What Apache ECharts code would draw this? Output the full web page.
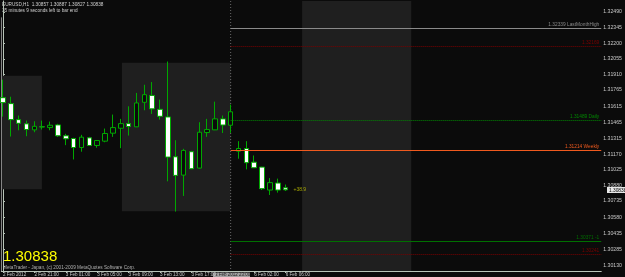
<!DOCTYPE html>
<html><head><meta charset="utf-8">
<script src="https://cdn.jsdelivr.net/npm/echarts@6/dist/echarts.min.js"></script>
<style>html,body{margin:0;padding:0;background:#0b0b0b;}#c{width:625px;height:277px;}</style>
</head><body><div id="c"></div>
<script>
// ---- data ----
const barIndex = [0,1,2,3,4,5,6,7,8,9,10,11,12,13,14,15,16,17,18,19,20,21,22,23,24,25,26,27,28,29,30,31,32,33,34,35,36];
const opens  = [1.31694,1.31639,1.31490,1.31451,1.31395,1.31423,1.31416,1.31441,1.31340,1.31315,1.31231,1.31321,1.31250,1.31290,1.31364,1.31410,1.31453,1.31423,1.31651,1.31715,1.31586,1.31515,1.31145,1.30975,1.31192,1.31040,1.31370,1.31395,1.31497,1.31438,1.31197,1.31222,1.31095,1.31049,1.30836,1.30901,1.30857];
const highs  = [1.31861,1.31703,1.31528,1.31481,1.31475,1.31481,1.31472,1.31451,1.31358,1.31321,1.31349,1.31330,1.31300,1.31407,1.31537,1.31497,1.31614,1.31738,1.31814,1.31839,1.31676,1.32030,1.31299,1.31219,1.31200,1.31466,1.31497,1.31657,1.31528,1.31629,1.31290,1.31290,1.31157,1.31052,1.30947,1.30942,1.30887];
const lows   = [1.31518,1.31333,1.31391,1.31336,1.31373,1.31398,1.31391,1.31330,1.31253,1.31120,1.31192,1.31245,1.31229,1.31280,1.31330,1.31225,1.31342,1.31421,1.31577,1.31543,1.31490,1.30917,1.30636,1.30781,1.31030,1.31035,1.31330,1.31393,1.31366,1.31367,1.31127,1.31028,1.31042,1.30836,1.30790,1.30812,1.30827];
const closes = [1.31648,1.31490,1.31456,1.31398,1.31428,1.31422,1.31438,1.31340,1.31312,1.31231,1.31327,1.31250,1.31296,1.31361,1.31416,1.31453,1.31426,1.31645,1.31722,1.31590,1.31521,1.31142,1.30972,1.31204,1.31034,1.31373,1.31398,1.31497,1.31440,1.31563,1.31222,1.31090,1.31043,1.30849,1.30905,1.30836,1.30838];

const priceTickValues = [1.30130,1.30285,1.30435,1.30580,1.30735,1.30880,1.31025,1.31170,1.31315,1.31465,1.31615,1.31765,1.31910,1.32055,1.32200,1.32345,1.32490];
const priceTickLabels = ['1.30130','1.30285','1.30435','1.30580','1.30735','1.30880','1.31025','1.31170','1.31315','1.31465','1.31615','1.31765','1.31910','1.32055','1.32200','1.32345','1.32490'];

const timeTickIndex  = [0,4,8,12,16,20,24,32,36];
const timeTickLabels = ['2 Feb 2012','2 Feb 21:00','3 Feb 01:00','3 Feb 05:00','3 Feb 09:00','3 Feb 13:00','3 Feb 17:00','6 Feb 02:00','6 Feb 06:00'];

const levelNames  = ['1.32339 LastMonthHigh','1.32169','1.31489 Daily','1.31214 Weekly','1.30371 -1','1.30241'];
const levelValues = [1.32339,1.32169,1.31482,1.31205,1.30364,1.30241];
const levelStartBar = [29,29,29,29,29,29];

const sessionBoxes = [ // [startBar, endBar, high, low]
  [-0.3, 4.96, 1.31898, 1.30843],
  [15.15, 29.0, 1.32018, 1.30639],
  [38.1, 52.0, null, null]
];
const lastPrice = 1.30838;
const lastLabel = '1.30838';
const spreadText = '+38.9';

// ---- chart ----
const X_MIN = -0.2144, X_MAX = 76.2, Y_MIN = 1.30084, Y_MAX = 1.32592;
const candles = barIndex.map((k,i)=>[k, opens[i], closes[i], lows[i], highs[i]]);
const chart = echarts.init(document.getElementById('c'), null, {renderer:'canvas'});
const levelColors = ['#8a8a8a','#7a0000','#008800','#f05a1e','#007000','#7a0000'];
const levelTypes = ['solid','dotted','dotted','solid','solid','dotted'];
const FONT = '"Liberation Sans"';

const markLineData = levelValues.map((v,i)=>{
  const ls = {color:levelColors[i], type:levelTypes[i], width:1, opacity:1};
  return [
    {coord:[levelStartBar[i], v], lineStyle:ls, itemStyle:{color:levelColors[i]},
     label:{show:true, position:'insideEndTop', formatter:levelNames[i], color:levelColors[i], fontSize:4.8, fontFamily:FONT, distance:[2,1]}},
    {coord:[X_MAX, v], lineStyle:ls, itemStyle:{color:levelColors[i]}}
  ];
});
const boxData = sessionBoxes.map(b=>[
  {coord:[b[0], b[2]===null?Y_MAX:b[2]]},
  {coord:[b[1], b[3]===null?Y_MIN:b[3]]}
]);

chart.setOption({
  backgroundColor:'#0b0b0b',
  animation:false,
  grid:{left:0, right:19, top:1, bottom:5, containLabel:false},
  xAxis:{type:'value', min:X_MIN, max:X_MAX, splitLine:{show:false},
    axisLine:{show:true, lineStyle:{color:'#b8c4b8', width:1}},
    axisTick:{show:true, length:2, customValues:timeTickIndex, lineStyle:{color:'#b8c4b8'}},
    axisLabel:{show:true, customValues:timeTickIndex, align:'left', margin:1, color:'#c8c8c8', fontSize:4.6, fontFamily:FONT,
      formatter:(v)=>{const i=timeTickIndex.indexOf(Math.round(v)); return i>=0?timeTickLabels[i]:'';}}
  },
  yAxis:{type:'value', position:'right', min:Y_MIN, max:Y_MAX, splitLine:{show:false}, scale:true,
    axisLine:{show:true, lineStyle:{color:'#b8c4b8', width:1}},
    axisTick:{show:true, length:2, customValues:priceTickValues, lineStyle:{color:'#b8c4b8'}},
    axisLabel:{show:true, customValues:priceTickValues, margin:2, color:'#c8c8c8', fontSize:5.2, fontFamily:FONT,
      formatter:(v)=>{let best=0,d=1;priceTickValues.forEach((t,i)=>{if(Math.abs(t-v)<d){d=Math.abs(t-v);best=i;}});return priceTickLabels[best];}}
  },
  series:[
    {type:'candlestick', data:candles, encode:{x:0, y:[1,2,3,4]}, barWidth:5,
      itemStyle:{color:'#0b0b0b', color0:'#ffffff', borderColor:'#00a800', borderColor0:'#00a800', borderWidth:1},
      markArea:{silent:true, itemStyle:{color:'#1f1f1f'}, data:boxData},
      markLine:{silent:true, symbol:['none','none'], lineStyle:{opacity:1}, data:markLineData}
    },
    {type:'line', data:[[29.0, Y_MAX],[29.0, Y_MIN]], symbol:'none', lineStyle:{color:'#6a6a6a', type:[1,2], width:1}, z:1},
    {type:'line', data:[[X_MIN+0.02, 1.3244],[X_MIN+0.02, Y_MIN]], symbol:'none', lineStyle:{color:'#8a8a8a', width:1}, z:1},
    {type:'scatter', data:[[37.0, lastPrice]], symbolSize:0,
      label:{show:true, position:'right', formatter:spreadText, color:'#c8c800', fontSize:5, fontFamily:FONT, distance:0}},
  ],
  graphic:[
    {type:'text', left:2, top:2, style:{text:'EURUSD,H1  1.30857 1.30887 1.30827 1.30838', fill:'#d0d0d0', font:'4.7px '+FONT}},
    {type:'text', left:2, top:8, style:{text:'35 minutes 9 seconds left to bar end', fill:'#d0d0d0', font:'4.7px '+FONT}},
    {type:'text', left:3, top:265, style:{text:'MetaTrader - Japan, (c) 2001-2009 MetaQuotes Software Corp.', fill:'#b0b0b0', font:'4.7px '+FONT}},
    {type:'text', left:3, top:249, style:{text:lastLabel, fill:'#ffff00', font:'15px '+FONT}},
    {type:'rect', shape:{x:607, y:187, width:18, height:6}, style:{fill:'#e8e8e8'}},
    {type:'text', left:609, top:188, style:{text:lastLabel, fill:'#000', font:'4.8px '+FONT}},
    {type:'rect', shape:{x:213, y:272.5, width:37, height:4.5}, style:{fill:'#a0a0a0'}},
    {type:'text', left:215, top:272.5, style:{text:'3 Feb 2012 23:00', fill:'#202020', font:'4.5px '+FONT}}
  ]
});
</script></body></html>
